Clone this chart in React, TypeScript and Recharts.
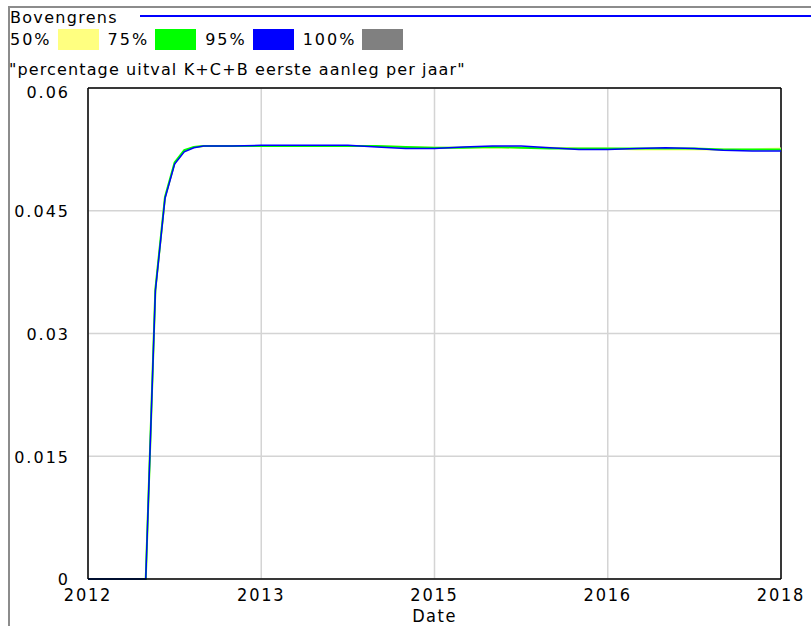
import React from "react";
import { LineChart, Line, XAxis, YAxis, CartesianGrid, ReferenceLine } from "recharts";

const months = [0, 6, 7, 8, 9, 10, 11, 12, 15, 18, 21, 24, 27, 30, 33, 36, 39, 42, 45, 48, 51, 54, 57, 60, 63, 66, 69, 72];
const band50 = [0, 0, 0.0353, 0.0466, 0.0508, 0.0523, 0.0528, 0.0529, 0.0529, 0.0529, 0.0529, 0.0529, 0.0529, 0.0529, 0.0528, 0.0527, 0.0527, 0.0527, 0.0527, 0.0527, 0.0526, 0.0526, 0.0525, 0.0525, 0.0525, 0.0525, 0.0525, 0.0526];
const band75 = [0, 0, 0.0354, 0.0467, 0.0509, 0.0524, 0.0528, 0.0529, 0.0529, 0.0529, 0.0529, 0.0529, 0.0529, 0.0529, 0.0528, 0.0527, 0.0527, 0.0528, 0.0527, 0.0526, 0.0526, 0.0526, 0.0526, 0.0526, 0.0526, 0.0525, 0.0525, 0.0525];
const band95 = [0, 0, 0.0352, 0.0465, 0.0507, 0.0522, 0.0527, 0.0529, 0.0529, 0.053, 0.053, 0.053, 0.053, 0.0528, 0.0526, 0.0526, 0.0528, 0.0529, 0.0529, 0.0527, 0.0525, 0.0525, 0.0526, 0.0527, 0.0526, 0.0524, 0.0523, 0.0523];

const xTicks = [0, 18, 36, 54, 72];
const xTickLabels = ["2012", "2013", "2015", "2016", "2018"];
const yTicks = [0, 0.015, 0.03, 0.045, 0.06];
const yTickLabels = ["0", "0.015", "0.03", "0.045", "0.06"];

const legendItems = [
  { label: "50%", color: "#ffff80" },
  { label: "75%", color: "#00ff00" },
  { label: "95%", color: "#0000ff" },
  { label: "100%", color: "#808080" },
];

const data = months.map((m, i) => ({ m, b50: band50[i], b75: band75[i], b95: band95[i] }));

const font = "'DejaVu Sans', Verdana, sans-serif";
const narrow = "'Liberation Sans Narrow', 'DejaVu Sans Condensed', sans-serif";

function YTick(props: any) {
  const { x, y, payload } = props;
  const v = payload.value as number;
  const dy = v === 0.06 ? 4 : v === 0 ? 0 : 1;
  return (
    <text x={x} y={y + dy} dy="0.355em" textAnchor="end" fill="#000" fontSize={16} fontFamily={font} letterSpacing={2}>
      {yTickLabels[yTicks.indexOf(v)]}
    </text>
  );
}

export default function App() {
  return (
    <div style={{ position: "absolute", left: 0, top: 0, width: 811, height: 626, background: "#fff", overflow: "hidden" }}>
      <div style={{ position: "absolute", left: 8, top: 6, width: 803, height: 1.5, background: "#8c8c8c" }} />
      <div style={{ position: "absolute", left: 8, top: 6, width: 1.5, height: 620, background: "#8c8c8c" }} />
      <div style={{ position: "absolute", left: 140, top: 15, width: 671, height: 2, background: "#0000ff" }} />
      <div style={{ position: "absolute", left: 10, top: 8, fontFamily: font, fontSize: 16, color: "#000", lineHeight: "20px", letterSpacing: 1.3 }}>Bovengrens</div>
      <div style={{ position: "absolute", left: 10, top: 29, display: "flex", alignItems: "center", fontFamily: font, fontSize: 16, lineHeight: "20px", letterSpacing: 2 }}>
        {legendItems.map((it) => (
          <React.Fragment key={it.label}>
            <span style={{ marginRight: 6 }}>{it.label}</span>
            <span style={{ display: "inline-block", width: 41, height: 21, background: it.color, marginRight: 9 }} />
          </React.Fragment>
        ))}
      </div>
      <div style={{ position: "absolute", left: 9, top: 60, fontFamily: font, fontSize: 16, lineHeight: "20px", letterSpacing: 1.13 }}>
        "percentage uitval K+C+B eerste aanleg per jaar"
      </div>
      <div style={{ position: "absolute", left: 0, top: 0 }}>
        <LineChart width={811} height={626} data={data} margin={{ top: 88, right: 30, bottom: 0, left: 0 }}>
          <CartesianGrid stroke="#d4d4d4" strokeWidth={1.5} />
          <XAxis
            dataKey="m"
            type="number"
            domain={[0, 72]}
            ticks={xTicks}
            tickFormatter={(v: number) => xTickLabels[xTicks.indexOf(v)]}
            tickLine={false}
            tickSize={0}
            tickMargin={9}
            height={47}
            axisLine={{ stroke: "#000", strokeWidth: 1.5 }}
            tick={{ fill: "#000", fontSize: 18, fontFamily: narrow, letterSpacing: 1.8 }}
            label={{ value: "Date", position: "insideBottom", offset: 4, fill: "#000", fontSize: 18, fontFamily: narrow, letterSpacing: 1.5 }}
            interval={0}
          />
          <YAxis
            type="number"
            domain={[0, 0.06]}
            ticks={yTicks}
            width={88}
            tickLine={false}
            tickSize={0}
            tickMargin={18}
            axisLine={{ stroke: "#000", strokeWidth: 1.5 }}
            tick={<YTick />}
            interval={0}
          />
          <ReferenceLine y={0.06} stroke="#000" strokeWidth={1.5} />
          <ReferenceLine x={72} stroke="#000" strokeWidth={1.5} />
          <Line dataKey="b50" stroke="#ffff80" strokeWidth={2} dot={false} isAnimationActive={false} type="linear" />
          <Line dataKey="b75" stroke="#00ff00" strokeWidth={2} dot={false} isAnimationActive={false} type="linear" />
          <Line dataKey="b95" stroke="#0000ff" strokeWidth={1.5} dot={false} isAnimationActive={false} type="linear" />
        </LineChart>
      </div>
    </div>
  );
}
